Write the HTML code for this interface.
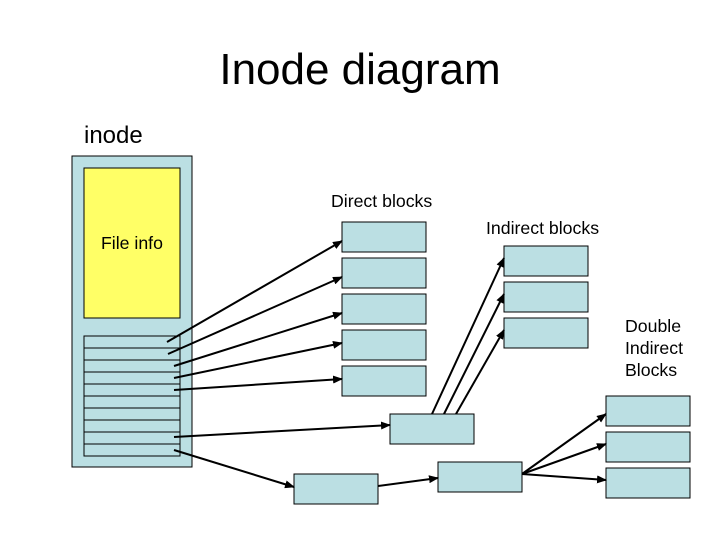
<!DOCTYPE html><html><head><style>body{margin:0;background:#fff}</style></head><body>
<svg width="720" height="540" xmlns="http://www.w3.org/2000/svg" font-family="Liberation Sans, sans-serif">
<defs><marker id="a" markerWidth="10" markerHeight="8" refX="9" refY="4" orient="auto" markerUnits="userSpaceOnUse"><path d="M0,0L10,4L0,8z" fill="#000"/></marker></defs>
<text x="360" y="84" font-size="44" text-anchor="middle">Inode diagram</text>
<text x="84" y="143" font-size="24">inode</text>
<g stroke="#000" stroke-width="1" fill="#bbdfe3">
<rect x="72" y="156" width="120" height="311"/>
<rect x="84" y="168" width="96" height="150" fill="#ffff66"/>
<rect x="84" y="336" width="96" height="120"/>
<path d="M84 348H180M84 360H180M84 372H180M84 384H180M84 396H180M84 408H180M84 420H180M84 432H180M84 444H180"/>
<rect x="342" y="222" width="84" height="30"/><rect x="342" y="258" width="84" height="30"/><rect x="342" y="294" width="84" height="30"/><rect x="342" y="330" width="84" height="30"/><rect x="342" y="366" width="84" height="30"/>
<rect x="390" y="414" width="84" height="30"/>
<rect x="504" y="246" width="84" height="30"/><rect x="504" y="282" width="84" height="30"/><rect x="504" y="318" width="84" height="30"/>
<rect x="606" y="396" width="84" height="30"/><rect x="606" y="432" width="84" height="30"/><rect x="606" y="468" width="84" height="30"/>
<rect x="294" y="474" width="84" height="30"/><rect x="438" y="462" width="84" height="30"/>
</g>
<g stroke="#000" stroke-width="2" marker-end="url(#a)">
<line x1="167" y1="342" x2="342" y2="241"/><line x1="168" y1="354" x2="342" y2="277"/><line x1="174" y1="366" x2="342" y2="313"/><line x1="174" y1="378" x2="342" y2="343"/><line x1="174" y1="390" x2="342" y2="379"/>
<line x1="174" y1="437" x2="390" y2="425"/><line x1="174" y1="450" x2="294" y2="487"/>
<line x1="432" y1="414" x2="504" y2="258"/><line x1="444" y1="414" x2="504" y2="294"/><line x1="456" y1="414" x2="504" y2="330"/>
<line x1="378" y1="486" x2="438" y2="478"/>
<line x1="522" y1="474" x2="606" y2="414"/><line x1="522" y1="474" x2="606" y2="444"/><line x1="522" y1="474" x2="606" y2="480"/>
</g>
<g font-size="17.7">
<text x="101" y="249">File info</text>
<text x="331" y="207">Direct blocks</text>
<text x="486" y="234">Indirect blocks</text>
<text x="625" y="332">Double</text><text x="625" y="354">Indirect</text><text x="625" y="376">Blocks</text>
</g>
</svg></body></html>
